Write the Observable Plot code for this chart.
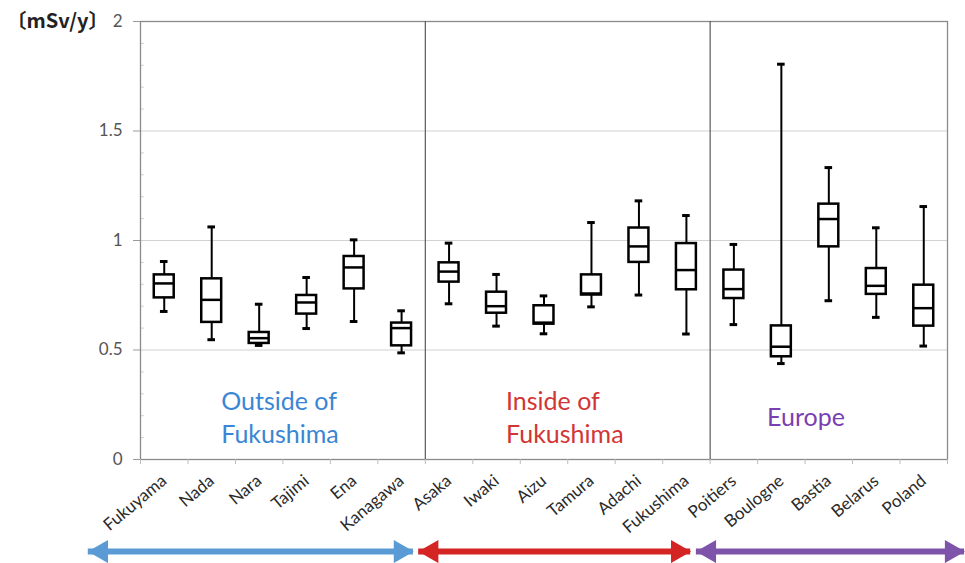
<!DOCTYPE html>
<html>
<head>
<meta charset="utf-8">
<script src="https://cdn.jsdelivr.net/npm/d3@7"></script>
<script src="https://cdn.jsdelivr.net/npm/@observablehq/plot@0.6"></script>
<style>
  html, body { margin: 0; padding: 0; background: #fff; }
  #chart { width: 965px; height: 563px; }
  svg { font-family: Lato, "Open Sans", sans-serif; }
</style>
</head>
<body>
<div id="chart"></div>
<script>
// ---- data ----
const places = ["Fukuyama","Nada","Nara","Tajimi","Ena","Kanagawa",
                "Asaka","Iwaki","Aizu","Tamura","Adachi","Fukushima",
                "Poitiers","Boulogne","Bastia","Belarus","Poland"];
const lowWhisker  = [0.676,0.547,0.521,0.598,0.630,0.487, 0.711,0.609,0.574,0.697,0.751,0.573, 0.616,0.438,0.725,0.649,0.518];
const q1          = [0.738,0.626,0.530,0.664,0.779,0.519, 0.810,0.668,0.618,0.751,0.900,0.775, 0.735,0.469,0.971,0.754,0.609];
const medians     = [0.804,0.729,0.554,0.717,0.877,0.600, 0.858,0.700,0.625,0.758,0.973,0.865, 0.778,0.515,1.098,0.793,0.691];
const q3          = [0.843,0.825,0.580,0.749,0.927,0.623, 0.898,0.764,0.702,0.843,1.057,0.986, 0.865,0.610,1.166,0.872,0.796];
const highWhisker = [0.904,1.062,0.709,0.831,1.003,0.679, 0.988,0.845,0.747,1.082,1.181,1.114, 0.982,1.805,1.333,1.058,1.155];
const groupNames  = ["Outside of\nFukushima","Inside of\nFukushima","Europe"];
const groupSizes  = [6,6,5];
const groupColors = ["#3a86d4","#d23535","#7a3fb0"];
const arrowColors = ["#5b9bd5","#d42424","#7e54aa"];
const yTicks = [0,0.5,1,1.5,2];
const unitLabel = "〔mSv/y〕";

// ---- derived tables ----
const boxes = places.map((name,i) => ({name, i, lo: lowWhisker[i], q1: q1[i], med: medians[i], q3: q3[i], hi: highWhisker[i]}));
const groupStarts = groupSizes.map((s,k) => d3.sum(groupSizes.slice(0,k)));
// layout (positions on the index scale)
const labelOffsets = [1.7, 1.7, 1.2];
const arrowSpans = [[-1.1,5.75],[5.86,11.59],[11.71,17.36]];
const groups = groupNames.map((label,k) => ({
  label, color: groupColors[k], arrow: arrowColors[k],
  start: groupStarts[k], end: groupStarts[k] + groupSizes[k],
  lx: groupStarts[k] + labelOffsets[k],
  a1: arrowSpans[k][0], a2: arrowSpans[k][1]
}));
const dividers = groupStarts.slice(1);
const minorTicks = d3.range(1,20).filter(v => v % 5 !== 0).map(v => v/10);
const bandEdges = d3.range(0, places.length + 1);
const bandCenters = places.map((d,i) => i + 0.5);
const arrowY = -0.42;

const chart = Plot.plot({
  width: 965,
  height: 563,
  marginLeft: 140,
  marginRight: 18,
  marginTop: 21,
  marginBottom: 104,
  style: {background: "#fff", fontFamily: "Lato, 'Open Sans', sans-serif"},
  x: {type: "linear", domain: [0, places.length], axis: null},
  y: {domain: [0, 2], axis: null},
  marks: [
    Plot.ruleY([0.5, 1, 1.5], {stroke: "#d2d2d2", strokeWidth: 1.2}),
    Plot.ruleY(minorTicks, {y: d => d, x1: 0, x2: 0.08, stroke: "#cfcfcf"}),
    Plot.frame({stroke: "#8a8a8a", strokeWidth: 1.3}),
    Plot.ruleX(dividers, {x: d => d, stroke: "#5a5a5a", strokeWidth: 1.2}),
    Plot.axisY({ticks: yTicks, tickSize: 7, tickPadding: 11, fontSize: 17, color: "#555",
                stroke: "#9a9a9a", tickFormat: d => String(d), label: null}),
    Plot.axisX({ticks: bandEdges, tickSize: 5, tickFormat: () => "", stroke: "#bbb", label: null}),
    Plot.axisX({ticks: bandCenters, tickSize: 0, tickPadding: 19, tickRotate: -40, fontSize: 17,
                color: "#2a2a2a", tickFormat: v => places[Math.floor(v)], label: null}),
    // whiskers
    Plot.ruleX(boxes, {x: d => d.i + 0.5, y1: "lo", y2: "hi", stroke: "#000", strokeWidth: 2}),
    Plot.ruleY(boxes, {y: "hi", x1: d => d.i + 0.42, x2: d => d.i + 0.58, stroke: "#000", strokeWidth: 3}),
    Plot.ruleY(boxes, {y: "lo", x1: d => d.i + 0.42, x2: d => d.i + 0.58, stroke: "#000", strokeWidth: 3}),
    // boxes
    Plot.rect(boxes, {x1: d => d.i + 0.29, x2: d => d.i + 0.71, y1: "q1", y2: "q3",
                      fill: "#fff", stroke: "#000", strokeWidth: 2.5}),
    Plot.ruleY(boxes, {y: "med", x1: d => d.i + 0.29, x2: d => d.i + 0.71, stroke: "#000", strokeWidth: 2.5}),
    // group labels
    Plot.text(groups, {x: "lx", y: 0.2, text: "label", fill: "color", textAnchor: "start",
                       fontSize: 25, lineHeight: 1.32}),
    // unit label
    Plot.text([unitLabel], {x: 0, y: 2, text: d => d, dx: -83, textAnchor: "middle",
                            fontSize: 20, fontWeight: "bold", fill: "#222",
                            fontFamily: "'Noto Sans CJK JP', sans-serif"}),
    // arrows
    Plot.ruleY(groups, {y: arrowY, x1: d => d.a1, x2: d => d.a2, stroke: "arrow", strokeWidth: 6}),
    Plot.dot(groups, {x: "a1", y: arrowY, symbol: "triangle", r: 8.6, rotate: -90, dx: 13, fill: "arrow", stroke: null}),
    Plot.dot(groups, {x: "a2", y: arrowY, symbol: "triangle", r: 8.6, rotate: 90, dx: -13, fill: "arrow", stroke: null})
  ]
});
document.getElementById("chart").appendChild(chart);
</script>
</body>
</html>
